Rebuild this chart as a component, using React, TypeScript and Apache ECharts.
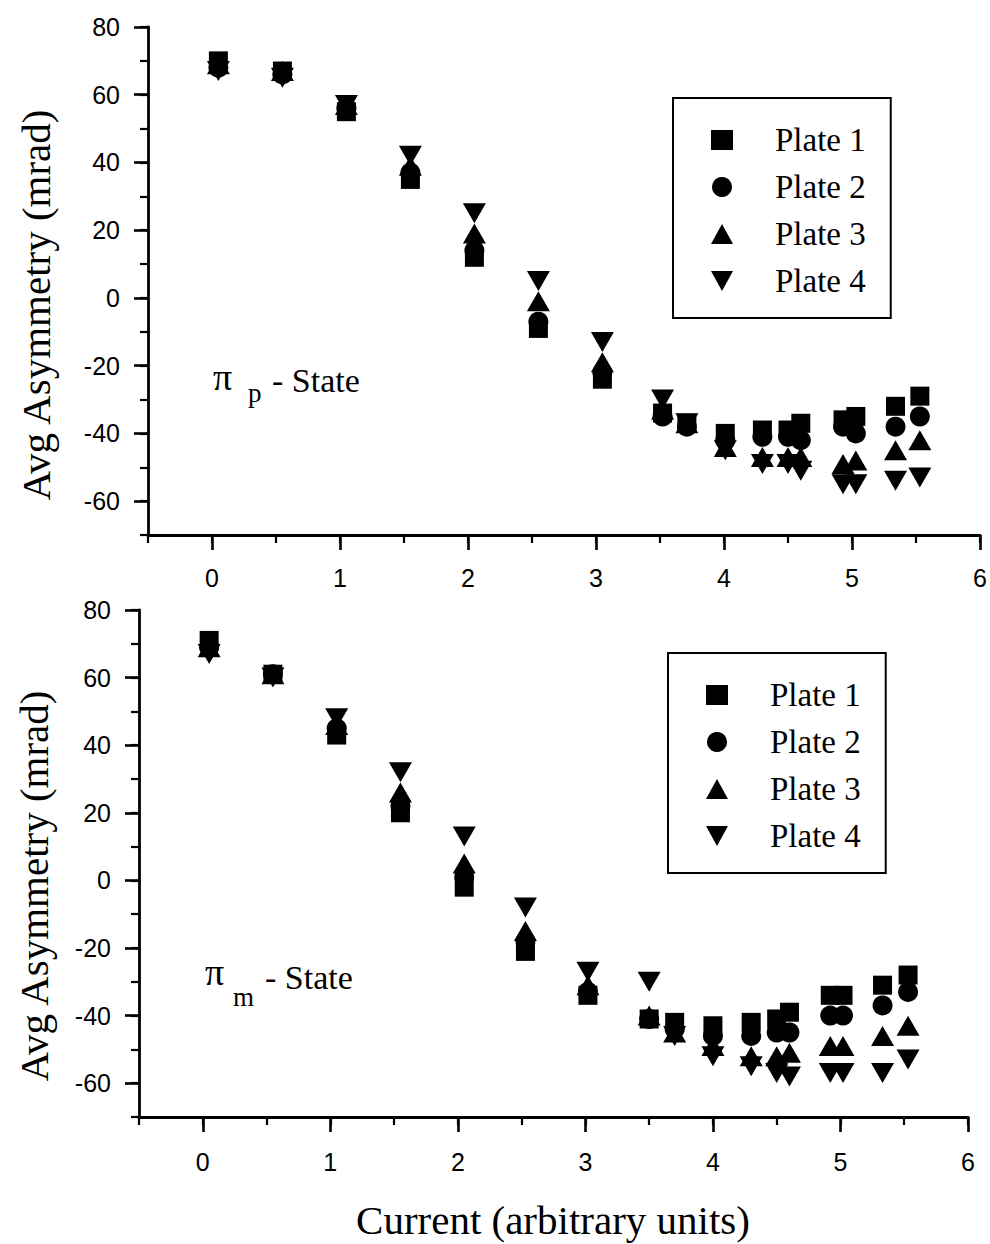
import React, { useEffect, useRef } from 'react';
import * as echarts from 'echarts';

const plateNames = ['Plate 1', 'Plate 2', 'Plate 3', 'Plate 4'];
const xTickValues = [0, 1, 2, 3, 4, 5, 6];
const yTickValues = [-60, -40, -20, 0, 20, 40, 60, 80];

// pi_p state (upper panel)
const currentP = [0.05, 0.55, 1.05, 1.55, 2.05, 2.55, 3.05, 3.52, 3.71, 4.01, 4.30, 4.50, 4.60, 4.93, 5.03, 5.34, 5.53];
const plate1P = [70, 67, 55, 35, 12, -9, -24, -34, -37, -40, -39, -39, -37, -36, -35, -32, -29];
const plate2P = [68, 66, 56, 37, 14, -7, -22, -35, -38, -42, -41, -41, -42, -38, -40, -38, -35];
const plate3P = [69, 67, 57, 39, 19, -1, -19, -33, -37, -44, -47, -47, -47, -49, -48, -45, -42];
const plate4P = [67, 65, 57, 42, 25, 5, -13, -30, -37, -45, -49, -49, -51, -55, -55, -54, -53];

// pi_m state (lower panel)
const currentM = [0.05, 0.55, 1.05, 1.55, 2.05, 2.53, 3.02, 3.50, 3.70, 4.00, 4.30, 4.50, 4.60, 4.92, 5.02, 5.33, 5.53];
const plate1M = [71, 61, 43, 20, -2, -21, -34, -41, -42, -43, -42, -41, -39, -34, -34, -31, -28];
const plate2M = [69, 61, 45, 22, 1, -18, -33, -41, -44, -46, -46, -45, -45, -40, -40, -37, -33];
const plate3M = [69, 61, 46, 26, 5, -15, -31, -40, -45, -49, -52, -52, -51, -49, -49, -46, -43];
const plate4M = [67, 60, 48, 32, 13, -8, -27, -30, -46, -52, -55, -57, -58, -57, -57, -57, -53];

const symbols = ['rect', 'circle', 'triangle', 'path://M0,0L20,0L10,18Z'];
const symbolSizes: any[] = [19, 20, [23, 20], [23, 20]];

const SERIF = '"Liberation Serif", "Times New Roman", serif';
const SANS = '"Liberation Sans", Arial, sans-serif';

function pairs(xs: number[], ys: number[]) {
  return xs.map((x, i) => [x, ys[i]]);
}

function xAxesFor(gridIndex: number, labelMargin: number) {
  return [
    {
      type: 'value', gridIndex, min: -0.5, max: 6, interval: 0.5, position: 'bottom',
      axisLine: { show: true, onZero: false, lineStyle: { color: '#000', width: 2.8 } },
      axisTick: { show: true, length: 8, lineStyle: { color: '#000', width: 2.2 } },
      axisLabel: { show: false },
      splitLine: { show: false },
    },
    {
      type: 'value', gridIndex, min: -0.5, max: 6, position: 'bottom',
      axisLine: { show: false, onZero: false },
      axisTick: { show: true, length: 15, customValues: xTickValues, lineStyle: { color: '#000', width: 2.6 } },
      axisLabel: { show: true, customValues: xTickValues, margin: labelMargin, color: '#000', fontSize: 25, fontFamily: SANS },
      splitLine: { show: false },
    },
  ];
}

function yAxesFor(gridIndex: number) {
  return [
    {
      type: 'value', gridIndex, min: -70, max: 80, interval: 10, position: 'left',
      axisLine: { show: true, onZero: false, lineStyle: { color: '#000', width: 2.8 } },
      axisTick: { show: true, length: 8, lineStyle: { color: '#000', width: 2.2 } },
      axisLabel: { show: false },
      splitLine: { show: false },
    },
    {
      type: 'value', gridIndex, min: -70, max: 80, position: 'left',
      axisLine: { show: false, onZero: false },
      axisTick: { show: true, length: 14, customValues: yTickValues, lineStyle: { color: '#000', width: 2.6 } },
      axisLabel: { show: true, customValues: yTickValues, margin: 28, color: '#000', fontSize: 25, fontFamily: SANS },
      splitLine: { show: false },
    },
  ];
}

function legendAt(left: number, top: number) {
  return {
    left, top, orient: 'vertical', selectedMode: false,
    data: plateNames,
    borderColor: '#000', borderWidth: 2,
    padding: [25, 25, 20, 38],
    itemWidth: 22, itemHeight: 20, itemGap: 13,
    itemStyle: { opacity: 1 },
    textStyle: { color: '#000', fontSize: 33, fontFamily: SERIF, lineHeight: 34, padding: [0, 0, 0, 37] },
  };
}

export default function App() {
  const ref = useRef<HTMLDivElement>(null);
  useEffect(() => {
    const chart = echarts.init(ref.current!, null, { renderer: 'svg' });
    const topSets = [plate1P, plate2P, plate3P, plate4P];
    const botSets = [plate1M, plate2M, plate3M, plate4M];
    const series: any[] = [];
    topSets.forEach((ys, i) => {
      series.push({
        type: 'scatter', name: plateNames[i], xAxisIndex: 0, yAxisIndex: 0,
        symbol: symbols[i], symbolSize: symbolSizes[i],
        itemStyle: { color: '#000', opacity: 1 }, data: pairs(currentP, ys),
      });
    });
    botSets.forEach((ys, i) => {
      series.push({
        type: 'scatter', name: plateNames[i], xAxisIndex: 2, yAxisIndex: 2,
        symbol: symbols[i], symbolSize: symbolSizes[i],
        itemStyle: { color: '#000', opacity: 1 }, data: pairs(currentM, ys),
      });
    });

    const txt = (text: string, x: number, y: number, size: number) => ({
      type: 'text', x, y,
      style: { text, fontSize: size, fontFamily: SERIF, fill: '#000', verticalAlign: 'middle', align: 'left' },
    });

    const option: any = {
      animation: false,
      backgroundColor: '#fff',
      grid: [
        { left: 148, top: 27, width: 832, height: 508, containLabel: false },
        { left: 139, top: 610, width: 829, height: 507, containLabel: false },
      ],
      xAxis: [...xAxesFor(0, 30), ...xAxesFor(1, 32)],
      yAxis: [...yAxesFor(0), ...yAxesFor(1)],
      legend: [legendAt(673, 98), legendAt(668, 653)],
      series,
      graphic: [
        txt('π', 213, 377, 38),
        txt('p', 248, 393, 27),
        txt('- State', 272, 380, 34),
        txt('π', 205, 972, 38),
        txt('m', 233, 997, 27),
        txt('- State', 265, 977, 34),
        {
          type: 'text', x: 36, y: 305, rotation: Math.PI / 2,
          style: { text: 'Avg Asymmetry (mrad)', fontSize: 41, fontFamily: SERIF, fill: '#000', align: 'center', verticalAlign: 'middle' },
        },
        {
          type: 'text', x: 34, y: 886, rotation: Math.PI / 2,
          style: { text: 'Avg Asymmetry (mrad)', fontSize: 41, fontFamily: SERIF, fill: '#000', align: 'center', verticalAlign: 'middle' },
        },
        {
          type: 'text', x: 553, y: 1220,
          style: { text: 'Current (arbitrary units)', fontSize: 41, fontFamily: SERIF, fill: '#000', align: 'center', verticalAlign: 'middle' },
        },
      ],
    };
    chart.setOption(option);
    return () => chart.dispose();
  }, []);
  return (
    <div
      ref={ref}
      style={{ position: 'fixed', left: 0, top: 0, width: 990, height: 1244, background: '#fff' }}
    />
  );
}
